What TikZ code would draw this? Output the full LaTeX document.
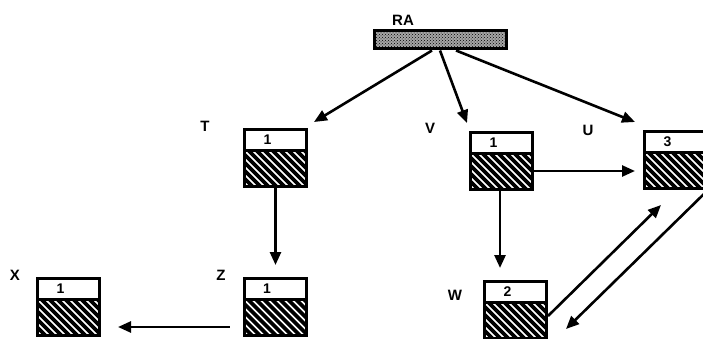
\documentclass[tikz,border=0pt]{standalone}
\usepackage{fontspec}
\setmainfont{Liberation Sans}
\usetikzlibrary{arrows.meta,patterns}
\begin{document}
\begin{tikzpicture}[x=1pt,y=-1pt,
  cell/.style={draw, line width=3pt, minimum width=62pt, minimum height=57pt, inner sep=0pt, fill=white,
    path picture={
      \begin{scope}
        \clip ([yshift=-21pt]path picture bounding box.north west) rectangle (path picture bounding box.south east);
        \foreach \i in {-104,-96,...,40}
          \draw[line width=3.6pt] ([xshift=\i pt]path picture bounding box.north) -- ++(70pt,-70pt);
      \end{scope}
      \draw[line width=3.5pt] ([yshift=-21pt]path picture bounding box.north west) -- ([yshift=-21pt]path picture bounding box.north east);
    }},
  num/.style={anchor=north, yshift=-7pt, xshift=-8pt, inner sep=0pt, font=\fontsize{14pt}{16pt}\selectfont\bfseries},
  lab/.style={inner sep=0pt, font=\fontsize{15pt}{17pt}\selectfont\bfseries},
  arr/.style={line width=2.6pt, -{Triangle[length=13pt,width=11pt]}},
  rabox/.style={draw, line width=3pt, minimum width=132pt, minimum height=18pt, inner sep=0pt, fill=black!35,
    postaction={pattern=crosshatch dots}}
]
\useasboundingbox (0,0) rectangle (703,339);
% top node
\node[rabox] (RA) at (440,40) {};
\node[lab] (RAl) at (403,20) {RA};
% cells
\node[cell, label={[num]north:1}] (T) at (275.5,158) {};
\node[cell, label={[num]north:1}] (V) at (501.5,161) {};
\node[cell, label={[num]north:3}] (U) at (675.5,160) {};
\node[cell, label={[num]north:1}] (Z) at (275,307) {};
\node[cell, label={[num]north:1}] (X) at (68.5,307) {};
\node[cell, label={[num]north:2}] (W) at (515.5,310) {};
% labels
\node[lab] (Tl) at (205,126) {T};
\node[lab] (Vl) at (430,128) {V};
\node[lab] (Ul) at (588,130) {U};
\node[lab] (Xl) at (15,275) {X};
\node[lab] (Zl) at (221,275) {Z};
\node[lab] (Wl) at (455,295) {W};
% connectors
\draw[arr] ([xshift=-8pt]RA.south) -- ([xshift=6pt,yshift=6pt]T.north east);
\draw[arr] (RA.south) -- ([xshift=-2pt,yshift=8pt]V.north west);
\draw[arr] ([xshift=16pt]RA.south) -- ([xshift=-8pt,yshift=8pt]U.north west);
\draw[arr, shorten >=12pt] (T.south) -- (T.south |- Z.north);
\draw[arr, shorten >=12pt] ([xshift=-1.5pt]V.south) -- ([xshift=-1.5pt]V.south |- W.north);
\draw[arr, shorten >=8pt] ([yshift=-10pt]V.east) -- ([yshift=-10pt]V.east -| U.west);
\draw[arr] ([xshift=-13pt,yshift=-20pt]Z.west) -- ([xshift=17pt,yshift=-20pt]X.east);
\draw[arr] ([yshift=-6pt]W.east) -- ([xshift=18pt,yshift=-15pt]U.south west);
\draw[arr] (U.south east) -- ([xshift=18pt,yshift=11pt]W.south east);
\end{tikzpicture}
\end{document}
